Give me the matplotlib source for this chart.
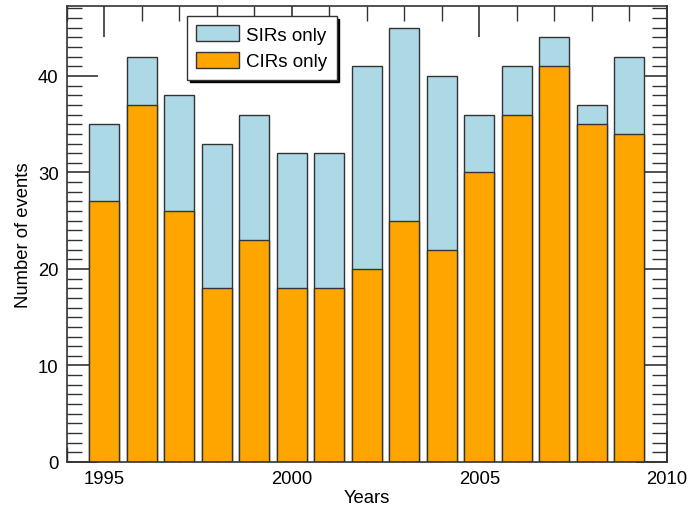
import matplotlib.pyplot as plt
import numpy as np
from matplotlib.ticker import MultipleLocator

plt.rcParams['font.family'] = ['Liberation Sans', 'DejaVu Sans']

# data
years = np.arange(1995, 2010)
sir_total = [35, 42, 38, 33, 36, 32, 32, 41, 45, 40, 36, 41, 44, 37, 42]
cir_only = [27, 37, 26, 18, 23, 18, 18, 20, 25, 22, 30, 36, 41, 35, 34]

fig = plt.figure(figsize=(6.89, 5.10), dpi=100)
ax = fig.add_axes([0.0972, 0.0922, 0.8708, 0.8941])

edge = "#333333"
ax.bar(years, sir_total, width=0.8, color="lightblue", edgecolor=edge, linewidth=1.0,
       label="SIRs only", zorder=2)
ax.bar(years, cir_only, width=0.8, color="orange", edgecolor=edge, linewidth=1.0,
       label="CIRs only", zorder=3)

ax.set_xlim(1994, 2010)
ax.set_ylim(0, 47.25)

ax.xaxis.set_major_locator(MultipleLocator(5))
ax.xaxis.set_minor_locator(MultipleLocator(1))
ax.yaxis.set_major_locator(MultipleLocator(10))
ax.yaxis.set_minor_locator(MultipleLocator(1))
ax.tick_params(which="both", direction="in", top=True, right=True, color=edge,
               labelsize=13.3, zorder=5)
ax.tick_params(which="major", length=22, width=1.2, pad=6)
ax.tick_params(which="minor", length=11, width=1.0)
for sp in ax.spines.values():
    sp.set_color(edge)
    sp.set_linewidth(1.2)
    sp.set_zorder(6)

ax.set_xlabel("Years", fontsize=13.3, labelpad=1)
ax.set_ylabel("Number of events", fontsize=13.3, labelpad=4)

leg = ax.legend(loc="upper left", bbox_to_anchor=(0.2, 0.978), borderaxespad=0,
                fontsize=13.5, fancybox=False, edgecolor=edge, framealpha=1,
                shadow={"color": "black", "alpha": 1}, handlelength=2.3,
                handleheight=0.9, handletextpad=0.35, borderpad=0.5, labelspacing=0.45)
leg.get_frame().set_linewidth(1.0)
leg.set_zorder(10)

fig.savefig("out.png", dpi=100)
